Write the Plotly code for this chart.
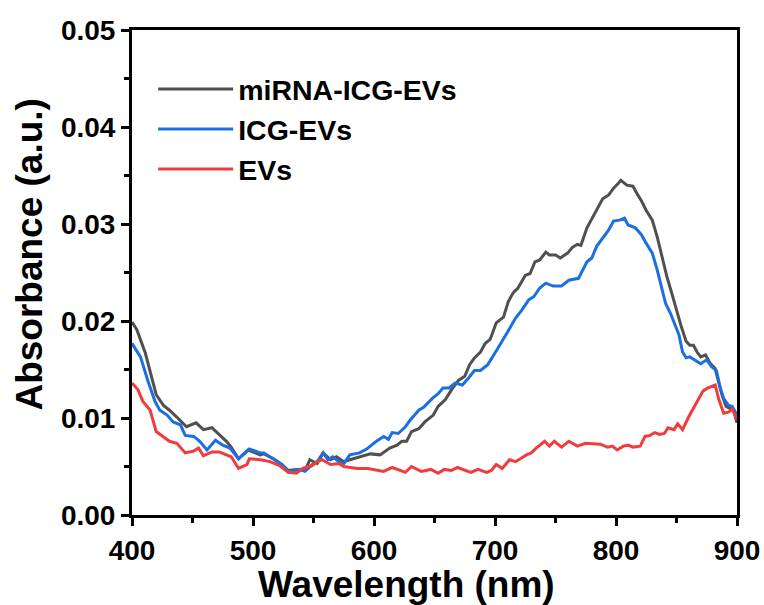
import plotly.graph_objects as go

# miRNA-ICG-EVs (dark gray)
wl_mirna = [400, 404, 411, 416, 420, 426, 431, 437, 445, 453, 459, 466, 471, 478, 482, 488, 496, 506, 509, 517,
            524, 529, 536, 543, 547, 553, 558, 564, 569, 575, 580, 588, 597, 605, 613, 619, 623, 627, 631, 637,
            642, 649, 653, 659, 664, 670, 675, 679, 683, 688, 692, 696, 701, 707, 711, 715, 719, 725, 729, 733,
            737, 742, 745, 750, 754, 760, 764, 768, 771, 776, 781, 787, 789, 794, 798, 802, 804, 809, 814, 818,
            821, 825, 830, 834, 838, 842, 846, 850, 854, 858, 861, 864, 867, 870, 874, 878, 882, 885, 888, 891,
            894, 897, 900]
abs_mirna = [0.0199, 0.0191, 0.0167, 0.0144, 0.0124, 0.0113, 0.0108, 0.0101, 0.0091, 0.0095, 0.0088, 0.0090, 0.0084,
             0.0076, 0.0070, 0.0058, 0.0067, 0.0062, 0.0063, 0.0058, 0.0052, 0.0046, 0.0047, 0.0046, 0.0057, 0.0053,
             0.0064, 0.0057, 0.0060, 0.0055, 0.0057, 0.0060, 0.0063, 0.0062, 0.0069, 0.0072, 0.0076, 0.0076, 0.0086,
             0.0089, 0.0096, 0.0103, 0.0112, 0.0119, 0.0129, 0.0139, 0.0143, 0.0155, 0.0162, 0.0168, 0.0177, 0.0181,
             0.0198, 0.0204, 0.0220, 0.0229, 0.0234, 0.0247, 0.0249, 0.0261, 0.0263, 0.0271, 0.0268, 0.0268, 0.0265,
             0.0270, 0.0276, 0.0279, 0.0278, 0.0296, 0.0308, 0.0321, 0.0326, 0.0330, 0.0337, 0.0342, 0.0345, 0.0340,
             0.0339, 0.0330, 0.0324, 0.0314, 0.0304, 0.0287, 0.0266, 0.0246, 0.0229, 0.0211, 0.0194, 0.0179, 0.0175,
             0.0175, 0.0168, 0.0163, 0.0165, 0.0156, 0.0151, 0.0136, 0.0122, 0.0112, 0.0110, 0.0109, 0.0095]

# ICG-EVs (blue)
wl_icg = [400, 407, 413, 419, 423, 429, 434, 440, 444, 451, 456, 462, 469, 475, 481, 488, 497, 506, 509, 517,
          524, 529, 533, 538, 543, 549, 553, 558, 562, 566, 571, 575, 580, 588, 594, 599, 602, 608, 612, 615,
          620, 626, 630, 637, 641, 648, 653, 657, 662, 667, 673, 678, 683, 688, 694, 700, 705, 711, 717, 722,
          728, 732, 737, 742, 748, 755, 761, 769, 776, 780, 784, 790, 794, 798, 803, 807, 810, 816, 821, 825,
          830, 834, 838, 841, 845, 849, 852, 855, 858, 861, 867, 870, 875, 879, 883, 886, 889, 893, 896, 900]
abs_icg = [0.0177, 0.0163, 0.0139, 0.0117, 0.0108, 0.0103, 0.0096, 0.0093, 0.0082, 0.0081, 0.0076, 0.0067, 0.0077,
           0.0072, 0.0069, 0.0058, 0.0068, 0.0064, 0.0064, 0.0058, 0.0052, 0.0045, 0.0045, 0.0047, 0.0045, 0.0052,
           0.0055, 0.0064, 0.0057, 0.0060, 0.0055, 0.0053, 0.0062, 0.0064, 0.0068, 0.0073, 0.0076, 0.0081, 0.0078,
           0.0085, 0.0084, 0.0091, 0.0098, 0.0108, 0.0111, 0.0120, 0.0125, 0.0131, 0.0131, 0.0136, 0.0134, 0.0141,
           0.0149, 0.0149, 0.0155, 0.0167, 0.0177, 0.0190, 0.0203, 0.0211, 0.0222, 0.0225, 0.0234, 0.0239, 0.0236,
           0.0236, 0.0242, 0.0244, 0.0261, 0.0265, 0.0277, 0.0287, 0.0294, 0.0303, 0.0304, 0.0306, 0.0299, 0.0296,
           0.0289, 0.0280, 0.0270, 0.0253, 0.0232, 0.0218, 0.0208, 0.0196, 0.0186, 0.0168, 0.0162, 0.0163, 0.0158,
           0.0156, 0.0160, 0.0153, 0.0149, 0.0132, 0.0120, 0.0113, 0.0112, 0.0103]

# EVs (red)
wl_evs = [400, 405, 409, 415, 420, 426, 431, 437, 444, 451, 455, 459, 466, 472, 478, 482, 488, 495, 497, 506,
          514, 522, 529, 536, 541, 549, 553, 557, 564, 571, 575, 586, 595, 605, 608, 615, 626, 631, 639, 647,
          653, 658, 664, 669, 675, 680, 686, 693, 697, 701, 706, 712, 717, 726, 730, 734, 741, 745, 749, 755,
          761, 768, 775, 782, 787, 793, 797, 801, 806, 810, 814, 820, 824, 828, 832, 836, 840, 843, 848, 851,
          855, 860, 864, 868, 872, 876, 878, 882, 885, 889, 893, 896, 900]
abs_evs = [0.0136, 0.0129, 0.0117, 0.0108, 0.0086, 0.0081, 0.0076, 0.0074, 0.0064, 0.0066, 0.0069, 0.0061, 0.0065,
           0.0065, 0.0062, 0.0060, 0.0048, 0.0052, 0.0058, 0.0057, 0.0055, 0.0051, 0.0044, 0.0043, 0.0048, 0.0051,
           0.0055, 0.0057, 0.0052, 0.0053, 0.0050, 0.0048, 0.0048, 0.0046, 0.0045, 0.0049, 0.0044, 0.0050, 0.0045,
           0.0047, 0.0043, 0.0047, 0.0046, 0.0049, 0.0046, 0.0044, 0.0047, 0.0044, 0.0046, 0.0052, 0.0048, 0.0057,
           0.0055, 0.0062, 0.0064, 0.0069, 0.0076, 0.0071, 0.0076, 0.0070, 0.0076, 0.0071, 0.0074, 0.0073, 0.0073,
           0.0070, 0.0071, 0.0067, 0.0071, 0.0072, 0.0070, 0.0071, 0.0081, 0.0082, 0.0085, 0.0083, 0.0084, 0.0090,
           0.0088, 0.0094, 0.0088, 0.0101, 0.0110, 0.0119, 0.0128, 0.0131, 0.0132, 0.0134, 0.0119, 0.0105, 0.0106,
           0.0109, 0.0099]

x_tickvals = [400, 500, 600, 700, 800, 900]
y_tickvals = [0.00, 0.01, 0.02, 0.03, 0.04, 0.05]
x_title = "Wavelength (nm)"
y_title = "Absorbance (a.u.)"

FONT = "Liberation Sans, Arial, sans-serif"

fig = go.Figure()
fig.add_trace(go.Scatter(x=wl_mirna, y=abs_mirna, mode="lines", name="miRNA-ICG-EVs",
                         line=dict(color="#505050", width=3)))
fig.add_trace(go.Scatter(x=wl_icg, y=abs_icg, mode="lines", name="ICG-EVs",
                         line=dict(color="#1c6fdf", width=3)))
fig.add_trace(go.Scatter(x=wl_evs, y=abs_evs, mode="lines", name="EVs",
                         line=dict(color="#ef3d3d", width=3)))

axis_common = dict(
    showline=True, linewidth=3, linecolor="black", mirror=True,
    ticks="outside", ticklen=8, tickwidth=3, tickcolor="black",
    showgrid=False, zeroline=False,
    tickfont=dict(family=FONT, size=28, color="black", weight="bold"),
)

fig.update_xaxes(range=[400, 900], tickvals=x_tickvals, ticktext=[str(v) for v in x_tickvals],
                 minor=dict(ticks="outside", ticklen=5, tickwidth=3, tickcolor="black", dtick=50, tick0=400),
                 **axis_common)
fig.update_yaxes(range=[0, 0.05], tickvals=y_tickvals, ticktext=[f"{v:.2f}" for v in y_tickvals],
                 minor=dict(ticks="outside", ticklen=5, tickwidth=3, tickcolor="black", dtick=0.005, tick0=0),
                 **axis_common)

title_font = dict(family=FONT, size=37, color="black", weight="bold")
fig.add_annotation(text=x_title, xref="paper", yref="paper", x=0.453, y=-0.1435,
                   xanchor="center", yanchor="middle", showarrow=False, font=title_font)
fig.add_annotation(text=y_title, xref="paper", yref="paper", x=-0.1686, y=0.539,
                   xanchor="center", yanchor="middle", textangle=-90, showarrow=False, font=title_font)

fig.update_layout(
    width=764, height=605,
    margin=dict(l=132, r=27, t=30, b=90, autoexpand=False),
    plot_bgcolor="white", paper_bgcolor="white",
    legend=dict(x=0.035, y=0.93, xanchor="left", yanchor="top", bgcolor="rgba(0,0,0,0)",
                itemwidth=75, tracegroupgap=0,
                font=dict(family=FONT, size=28.5, color="black", weight="bold")),
)

fig.write_html("out.html", config={"displayModeBar": False},
               post_script="document.body.style.margin='0';document.body.style.overflow='hidden';")
